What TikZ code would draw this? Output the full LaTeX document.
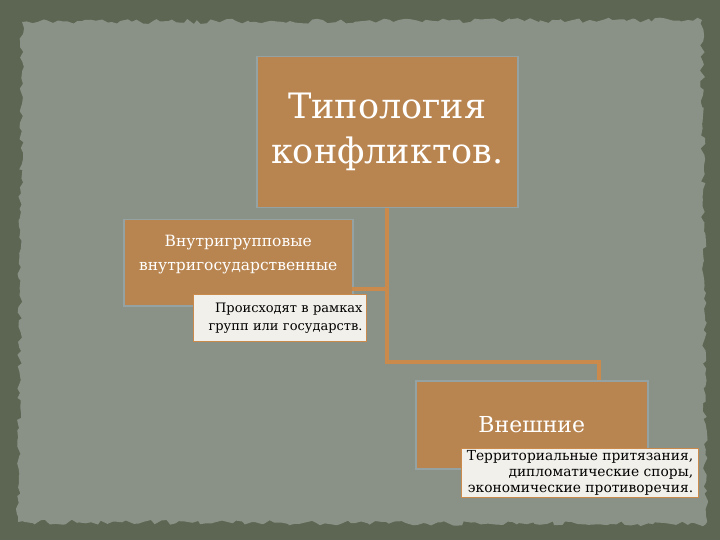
\documentclass[tikz,border=0pt]{standalone}
\usepackage{fontspec}
\setmainfont{DejaVu Serif}
\usetikzlibrary{decorations.pathmorphing,calc}
\definecolor{frame}{HTML}{5C6652}
\definecolor{paper}{HTML}{8A9287}
\definecolor{cork}{HTML}{B8844F}
\definecolor{halo}{HTML}{94A2A4}
\definecolor{wire}{HTML}{C98A4B}
\definecolor{note}{HTML}{F2F0EA}
\begin{document}
\begin{tikzpicture}[x=1pt,y=-1pt,
  corkbox/.style={fill=cork, draw=halo, line width=1.5pt, anchor=north west, text=white, inner sep=0pt, align=center},
  notebox/.style={fill=note, draw=wire, line width=1pt, anchor=north east, text=black, align=right, inner xsep=4pt, inner ysep=1pt},
  wireline/.style={draw=wire, line width=4pt}]
\useasboundingbox (0,0) rectangle (720,540);
\fill[frame] (0,0) rectangle (720,540);
\pgfmathsetseed{7}
\fill[paper, decorate, decoration={random steps, segment length=5pt, amplitude=2.5pt}]
  (22,22) -- (702,20) -- (706,524) -- (18,522) -- cycle;

\node[corkbox, minimum width=261pt, minimum height=151pt,
      font=\fontsize{35}{45}\selectfont] (top) at (256,56) {Типология\\конфликтов.};
\node[corkbox, minimum width=229pt, minimum height=86pt,
      font=\fontsize{15.5}{24}\selectfont] (intra) at (123,219) {Внутригрупповые\\внутригосударственные\vphantom{pq}\\[-5pt]\mbox{}};
\node[notebox, text width=165pt, minimum height=47pt,
      font=\fontsize{13}{18}\selectfont] (note1) at (367,294) {Происходят в рамках\\групп или государств.};
\node[corkbox, minimum width=232pt, minimum height=88pt,
      font=\fontsize{22}{28}\selectfont] (ext) at (415,380) {Внешние};
\node[notebox, minimum width=237pt, minimum height=49pt,
      font=\fontsize{13.8}{16}\selectfont] (note2) at (699,448) {Территориальные притязания,\\дипломатические споры,\\экономические противоречия.};

\coordinate (extin) at (599,380);
\coordinate (bend) at (599,362);
\coordinate (intrin) at (352,289);
\draw[wireline] (top.south) |- (bend) -- (extin);
\draw[wireline] (intrin) -- (top.south |- intrin);
\end{tikzpicture}
\end{document}
